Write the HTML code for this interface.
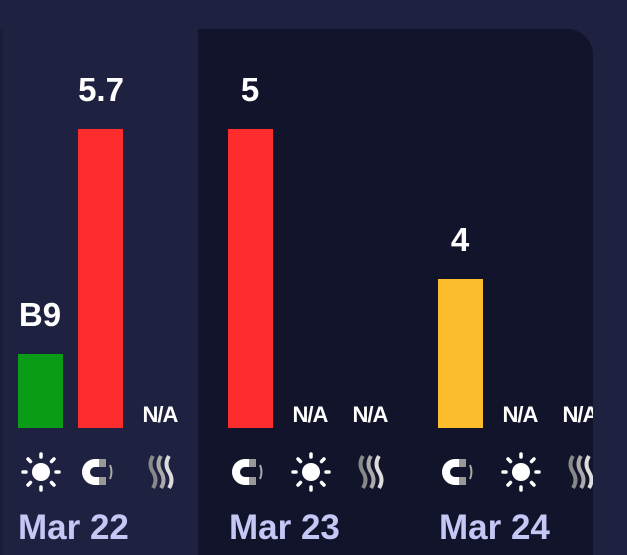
<!DOCTYPE html>
<html><head><style>
body{margin:0;width:627px;height:555px;background:#1e2140;overflow:hidden;font-family:"Liberation Sans",sans-serif;}
#clip{position:absolute;left:0;top:0;width:593px;height:555px;overflow:hidden;}
.dark{position:absolute;left:198px;top:29px;width:395px;height:540px;background:#12142b;border-top-right-radius:26px;}
.edge{position:absolute;left:0;top:29px;width:3px;height:530px;background:#191c36;}
.bar{position:absolute;width:45px;}
.v{position:absolute;width:80px;text-align:center;color:#fff;font-weight:bold;font-size:33px;}
.na{position:absolute;width:60px;text-align:center;color:#fff;font-weight:bold;font-size:22px;top:402px;letter-spacing:-1px;}
.d{position:absolute;top:508px;color:#c5c8f5;font-weight:bold;font-size:35px;}
svg.i{position:absolute;top:452px;}
</style></head><body>
<div id="clip">
<div class="dark"></div>
<div class="edge"></div>
<div class="bar" style="left:18px;top:354px;height:74px;background:#0a9c16"></div>
<div class="bar" style="left:78px;top:129px;height:299px;background:#fe2d2d"></div>
<div class="bar" style="left:228px;top:129px;height:299px;background:#fe2d2d"></div>
<div class="bar" style="left:438px;top:279px;height:149px;background:#fcbd2d"></div>
<div class="v" style="left:0;top:296px">B9</div>
<div class="v" style="left:61px;top:71px">5.7</div>
<div class="v" style="left:210px;top:71px">5</div>
<div class="v" style="left:420px;top:221px">4</div>
<div class="na" style="left:130px">N/A</div>
<div class="na" style="left:280px">N/A</div>
<div class="na" style="left:340px">N/A</div>
<div class="na" style="left:490px">N/A</div>
<div class="na" style="left:550px">N/A</div>
<svg width="0" height="0" style="position:absolute"><defs>
<g id="sun"><circle cx="20" cy="20" r="9" fill="#fff"/><g stroke="#fff" stroke-width="3.5" stroke-linecap="round"><line x1="20" y1="2" x2="20" y2="5"/><line x1="20" y1="35" x2="20" y2="38"/><line x1="2" y1="20" x2="5" y2="20"/><line x1="35" y1="20" x2="38" y2="20"/><line x1="7" y1="7" x2="9.5" y2="9.5"/><line x1="30.5" y1="30.5" x2="33" y2="33"/><line x1="7" y1="33" x2="9.5" y2="30.5"/><line x1="30.5" y1="9.5" x2="33" y2="7"/></g></g>
<g id="mag"><path d="M22 7 H15 A13 13 0 0 0 15 33 H22 V25 H15 A5 5 0 0 1 15 15 H22 Z" fill="#fff"/><rect x="19" y="7" width="7" height="8" fill="#999"/><rect x="19" y="25" width="7" height="8" fill="#999"/><path d="M30 13 Q33 20 30 27" stroke="#aaa" stroke-width="2" fill="none"/></g>
<g id="wav" fill="none" stroke-width="4"><path d="M10 4 Q5 12 10 20 Q15 28 10 36" stroke="#888"/><path d="M18 4 Q13 12 18 20 Q23 28 18 36" stroke="#aaa"/><path d="M26 4 Q21 12 26 20 Q31 28 26 36" stroke="#ddd"/></g>
</defs></svg>
<svg class="i" style="left:21px" width="40" height="40"><use href="#sun"/></svg>
<svg class="i" style="left:80px" width="40" height="40"><use href="#mag"/></svg>
<svg class="i" style="left:143px" width="40" height="40"><use href="#wav"/></svg>
<svg class="i" style="left:230px" width="40" height="40"><use href="#mag"/></svg>
<svg class="i" style="left:291px" width="40" height="40"><use href="#sun"/></svg>
<svg class="i" style="left:353px" width="40" height="40"><use href="#wav"/></svg>
<svg class="i" style="left:440px" width="40" height="40"><use href="#mag"/></svg>
<svg class="i" style="left:501px" width="40" height="40"><use href="#sun"/></svg>
<svg class="i" style="left:563px" width="40" height="40"><use href="#wav"/></svg>
<div class="d" style="left:18px">Mar 22</div>
<div class="d" style="left:229px">Mar 23</div>
<div class="d" style="left:439px">Mar 24</div>
</div>
</body></html>
